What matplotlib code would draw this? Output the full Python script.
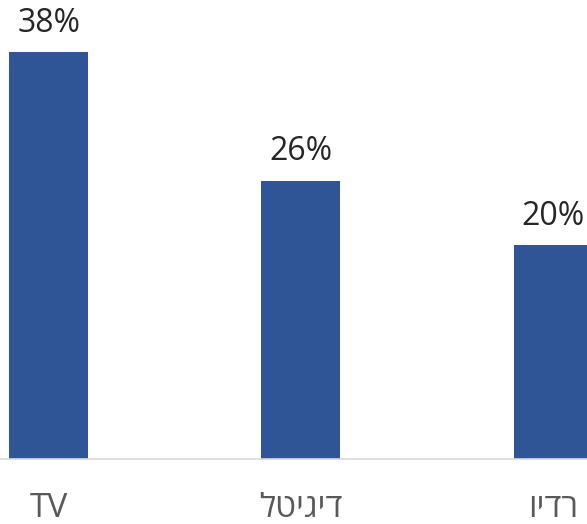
import matplotlib.pyplot as plt

plt.rcParams['font.family'] = ['Open Sans', 'Liberation Sans', 'DejaVu Sans']

categories = ["TV", "דיגיטל", "רדיו"]
values = [38, 26, 20]

# matplotlib lays out text left to right, so Hebrew labels are reversed for display
def rtl(s):
    if any('\u0590' <= ch <= '\u05ff' for ch in s):
        return s[::-1]
    return s

fig = plt.figure(figsize=(5.87, 5.24), dpi=100)
ax = fig.add_axes([0, 65 / 524, 1, 459 / 524])

x = list(range(len(categories)))
bars = ax.bar(x, values, width=0.313, color="#2F5597")

for b, v in zip(bars, values):
    ax.annotate(f"{v}%", (b.get_x() + b.get_width() / 2, v),
                xytext=(0, 9), textcoords="offset points",
                ha="center", va="bottom", fontsize=23, color="#262626")

ax.set_xlim(-0.194, 2.135)
ax.set_ylim(0, 42.9)
ax.set_xticks(x)
ax.set_xticklabels([rtl(c) for c in categories], fontsize=24, color="#595959")
ax.tick_params(axis="x", length=0, pad=24)
ax.set_yticks([])
for s in ["top", "left", "right"]:
    ax.spines[s].set_visible(False)
ax.spines["bottom"].set_color("#D9D9D9")
ax.spines["bottom"].set_linewidth(1.2)

fig.savefig("out.png", dpi=100)
